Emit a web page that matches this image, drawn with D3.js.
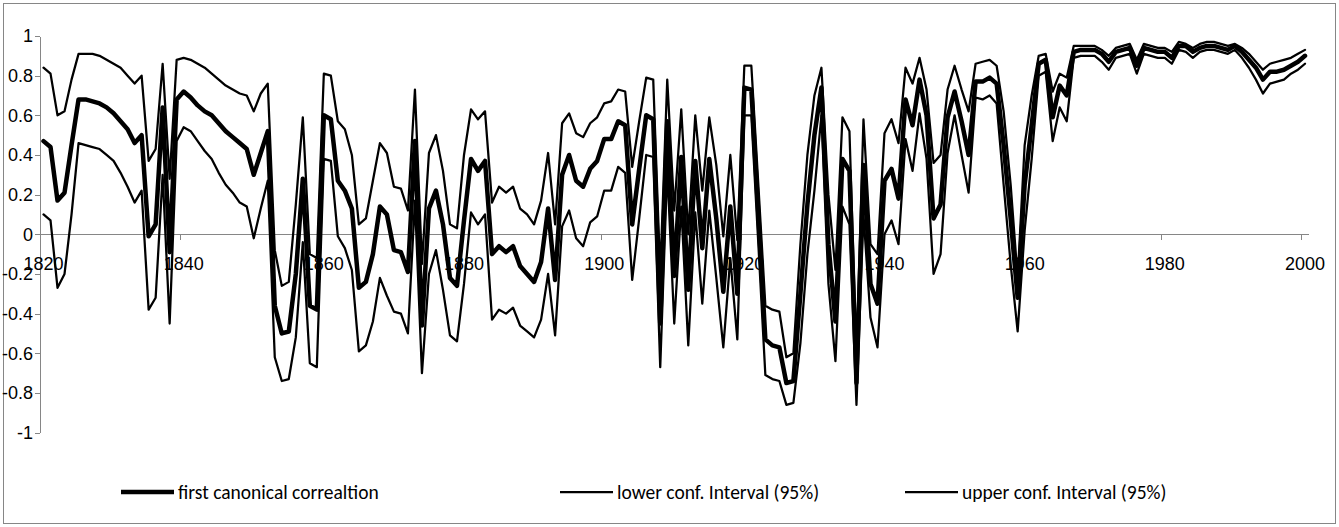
<!DOCTYPE html>
<html>
<head>
<meta charset="utf-8">
<script src="https://cdn.jsdelivr.net/npm/d3@7"></script>
<style>
    body { margin: 0; background: #ffffff; }
    svg { display: block; font-family: Carlito, Calibri, Lato, sans-serif; }
    .axis path, .axis line { stroke: #868686; stroke-width: 1; shape-rendering: crispEdges; }
    .axis text { font-size: 18px; fill: #000000; }
    .legend text { font-size: 19.5px; fill: #000000; }
</style>
</head>
<body>
<script>
// categories: one point per year
var years = d3.range(1820, 2001);
var xTickYears = [1820, 1840, 1860, 1880, 1900, 1920, 1940, 1960, 1980, 2000];
var yTicks = [-1, -0.8, -0.6, -0.4, -0.2, 0, 0.2, 0.4, 0.6, 0.8, 1];

// values, one row per decade
var firstCorr = [
    0.47, 0.44, 0.17, 0.21, 0.45, 0.68, 0.68, 0.67, 0.66, 0.64,
    0.61, 0.57, 0.53, 0.46, 0.50, -0.01, 0.05, 0.64, -0.09, 0.68,
    0.72, 0.69, 0.65, 0.62, 0.60, 0.56, 0.52, 0.49, 0.46, 0.43,
    0.30, 0.41, 0.52, -0.36, -0.50, -0.49, -0.20, 0.28, -0.36, -0.38,
    0.60, 0.58, 0.27, 0.22, 0.13, -0.27, -0.24, -0.10, 0.14, 0.10,
    -0.08, -0.09, -0.19, 0.47, -0.46, 0.13, 0.22, 0.05, -0.22, -0.26,
    0.07, 0.38, 0.32, 0.37, -0.10, -0.06, -0.09, -0.06, -0.16, -0.20,
    -0.24, -0.14, 0.13, -0.23, 0.30, 0.40, 0.27, 0.24, 0.33, 0.37,
    0.48, 0.48, 0.57, 0.55, 0.05, 0.33, 0.60, 0.58, -0.45, 0.57,
    -0.21, 0.39, -0.28, 0.37, -0.07, 0.38, 0.08, -0.29, 0.14, -0.30,
    0.74, 0.73, 0.10, -0.53, -0.56, -0.57, -0.75, -0.74, -0.30, 0.15,
    0.50, 0.74, -0.05, -0.44, 0.38, 0.32, -0.75, 0.35, -0.25, -0.35,
    0.27, 0.33, 0.18, 0.68, 0.55, 0.78, 0.60, 0.08, 0.15, 0.59,
    0.72, 0.57, 0.40, 0.77, 0.77, 0.79, 0.76, 0.45, 0.08, -0.32,
    0.25, 0.55, 0.86, 0.88, 0.59, 0.75, 0.70, 0.92, 0.93, 0.93,
    0.93, 0.91, 0.87, 0.92, 0.93, 0.94, 0.85, 0.94, 0.93, 0.92,
    0.92, 0.89, 0.95, 0.95, 0.92, 0.94, 0.95, 0.95, 0.94, 0.93,
    0.95, 0.92, 0.88, 0.84, 0.78, 0.82, 0.82, 0.83, 0.85, 0.87,
    0.90
];

var lowerConf = [
    0.10, 0.07, -0.27, -0.20, 0.10, 0.46, 0.45, 0.44, 0.43, 0.40,
    0.37, 0.31, 0.24, 0.16, 0.22, -0.38, -0.32, 0.30, -0.45, 0.47,
    0.54, 0.52, 0.47, 0.42, 0.38, 0.31, 0.25, 0.21, 0.16, 0.14,
    -0.02, 0.13, 0.27, -0.62, -0.74, -0.73, -0.52, -0.04, -0.65, -0.67,
    0.38, 0.37, -0.01, -0.07, -0.18, -0.59, -0.56, -0.44, -0.22, -0.31,
    -0.39, -0.40, -0.50, 0.17, -0.70, -0.20, -0.08, -0.28, -0.51, -0.54,
    -0.25, 0.11, 0.05, 0.10, -0.43, -0.38, -0.40, -0.37, -0.46, -0.49,
    -0.52, -0.43, -0.20, -0.51, 0.04, 0.12, -0.02, -0.06, 0.06, 0.09,
    0.22, 0.22, 0.34, 0.31, -0.23, 0.08, 0.40, 0.39, -0.67, 0.33,
    -0.45, 0.14, -0.56, 0.11, -0.35, 0.12, -0.22, -0.57, -0.12, -0.53,
    0.60, 0.60, -0.05, -0.71, -0.73, -0.74, -0.86, -0.85, -0.55, -0.10,
    0.22, 0.60, -0.25, -0.64, 0.14, 0.05, -0.86, 0.10, -0.42, -0.57,
    0.00, 0.07, -0.05, 0.48, 0.32, 0.61, 0.38, -0.20, -0.10, 0.41,
    0.60, 0.40, 0.21, 0.69, 0.68, 0.70, 0.66, 0.25, -0.15, -0.49,
    0.02, 0.38, 0.80, 0.82, 0.47, 0.64, 0.57, 0.89, 0.90, 0.90,
    0.90, 0.87, 0.83, 0.89, 0.90, 0.91, 0.81, 0.91, 0.90, 0.89,
    0.89, 0.86, 0.93, 0.92, 0.89, 0.92, 0.93, 0.93, 0.92, 0.91,
    0.93, 0.89, 0.84, 0.78, 0.71, 0.76, 0.77, 0.78, 0.81, 0.83,
    0.86
];

var upperConf = [
    0.84, 0.81, 0.60, 0.62, 0.78, 0.91, 0.91, 0.91, 0.90, 0.88,
    0.86, 0.84, 0.80, 0.76, 0.80, 0.37, 0.43, 0.86, 0.28, 0.88,
    0.89, 0.88, 0.86, 0.84, 0.81, 0.78, 0.75, 0.73, 0.71, 0.70,
    0.62, 0.71, 0.76, -0.08, -0.26, -0.24, 0.15, 0.59, -0.10, -0.12,
    0.81, 0.80, 0.57, 0.53, 0.40, 0.05, 0.08, 0.27, 0.46, 0.41,
    0.24, 0.23, 0.12, 0.73, -0.15, 0.41, 0.50, 0.32, 0.05, 0.03,
    0.40, 0.63, 0.58, 0.62, 0.16, 0.24, 0.21, 0.24, 0.13, 0.10,
    0.05, 0.17, 0.41, 0.05, 0.56, 0.61, 0.51, 0.49, 0.56, 0.59,
    0.66, 0.67, 0.73, 0.72, 0.34, 0.57, 0.79, 0.78, -0.20, 0.78,
    0.12, 0.63, 0.00, 0.60, 0.22, 0.59, 0.35, -0.01, 0.40, -0.03,
    0.85, 0.85, 0.25, -0.36, -0.38, -0.39, -0.62, -0.60, -0.05, 0.40,
    0.70, 0.84, 0.20, -0.18, 0.59, 0.52, -0.62, 0.58, -0.05, -0.10,
    0.51, 0.58, 0.46, 0.84, 0.76, 0.89, 0.73, 0.36, 0.40, 0.73,
    0.85, 0.73, 0.62, 0.86, 0.87, 0.88, 0.85, 0.62, 0.25, -0.22,
    0.45, 0.70, 0.90, 0.91, 0.72, 0.81, 0.79, 0.95, 0.95, 0.95,
    0.95, 0.93, 0.90, 0.94, 0.95, 0.96, 0.88, 0.96, 0.95, 0.94,
    0.94, 0.92, 0.97, 0.96, 0.94, 0.96, 0.97, 0.97, 0.96, 0.95,
    0.96, 0.94, 0.91, 0.87, 0.83, 0.86, 0.87, 0.88, 0.89, 0.91,
    0.93
];

var seriesNames = ["first canonical correaltion", "lower conf. Interval (95%)", "upper conf. Interval (95%)"];

var width = 1339;
var height = 527;
var plot = {left: 40, right: 1308.5, top: 36, bottom: 432.6}; // plot area

var svg = d3.select("body")
            .append("svg")
            .attr("width", width)
            .attr("height", height);

// chart border
svg.append("rect")
    .attr("x", 3.5)
    .attr("y", 3.5)
    .attr("width", width - 7)
    .attr("height", height - 7)
    .attr("fill", "#ffffff")
    .attr("stroke", "#868686")
    .attr("stroke-width", 1);

// category axis, one band per year
var x = d3.scaleBand()
          .domain(years)
          .range([plot.left, plot.right])
          .padding(0);

var y = d3.scaleLinear()
          .domain([-1, 1])
          .range([plot.bottom, plot.top]);

// y axis
var yAxis = d3.axisLeft(y)
              .tickValues(yTicks)
              .tickSize(5)
              .tickSizeOuter(0)
              .tickPadding(2)
              .tickFormat(function(d) { return String(d); });

svg.append("g")
    .attr("class", "axis")
    .attr("transform", "translate(" + plot.left + ",0)")
    .call(yAxis);

// x axis crosses at 0, labels centred on the category
var xAxis = d3.axisBottom(x)
              .tickValues(xTickYears)
              .tickSize(0)
              .tickSizeOuter(0)
              .tickPadding(23);

var gx = svg.append("g")
            .attr("class", "axis")
            .attr("transform", "translate(0," + y(0) + ")")
            .call(xAxis);

// tick marks sit between categories (left edge of the labelled year)
gx.selectAll(".tick-mark")
    .data(xTickYears.slice(1))
    .enter()
    .append("line")
    .attr("class", "tick-mark")
    .attr("x1", function(d) { return Math.round(x(d)) + 0.5; })
    .attr("x2", function(d) { return Math.round(x(d)) + 0.5; })
    .attr("y1", 0)
    .attr("y2", 6);

// lines
function makeLine(values) {
    return d3.line()
             .x(function(d, i) { return x(years[i]) + x.bandwidth() / 2; })
             .y(function(d) { return y(d); })(values);
}

var series = [
    {values: firstCorr, width: 4.5},
    {values: lowerConf, width: 2.25},
    {values: upperConf, width: 2.25}
];

svg.selectAll(".series")
    .data(series)
    .enter()
    .append("path")
    .attr("class", "series")
    .attr("d", function(d) { return makeLine(d.values); })
    .attr("fill", "none")
    .attr("stroke", "#000000")
    .attr("stroke-width", function(d) { return d.width; })
    .attr("stroke-linejoin", "round")
    .attr("stroke-linecap", "round");

// legend at the bottom
var legendX = [121, 560, 905];
var legendY = 492;

var legend = svg.append("g").attr("class", "legend");

var items = legend.selectAll("g")
                  .data(series)
                  .enter()
                  .append("g")
                  .attr("transform", function(d, i) { return "translate(" + legendX[i] + "," + legendY + ")"; });

items.append("line")
    .attr("x1", 0)
    .attr("x2", 53)
    .attr("y1", 0)
    .attr("y2", 0)
    .attr("stroke", "#000000")
    .attr("stroke-width", function(d) { return d.width; });

items.append("text")
    .attr("x", 57)
    .attr("y", 0)
    .attr("dy", "0.35em")
    .text(function(d, i) { return seriesNames[i]; });
</script>
</body>
</html>
